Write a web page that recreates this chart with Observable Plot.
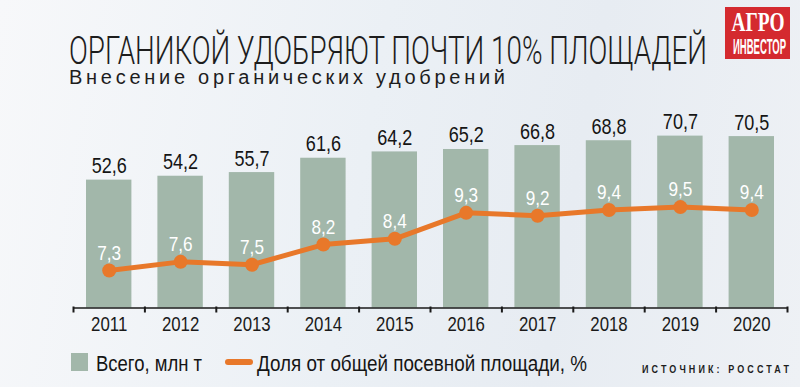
<!DOCTYPE html>
<html>
<head>
<meta charset="utf-8">
<script src="https://cdn.jsdelivr.net/npm/d3@7"></script>
<script src="https://cdn.jsdelivr.net/npm/@observablehq/plot@0.6"></script>
<style>
  html, body { margin: 0; padding: 0; }
  #wrap {
    position: relative; width: 800px; height: 387px; overflow: hidden;
    background: linear-gradient(100deg, #f7f8fa 0%, #ebf0f5 45%, #e7ecf2 70%, #eef1f5 100%);
  }
  #chart, #overlay { position: absolute; left: 0; top: 0; }
</style>
</head>
<body>
<div id="wrap">
  <div id="chart"></div>
  <svg id="overlay" width="800" height="387" xmlns="http://www.w3.org/2000/svg"></svg>
</div>
<script>
const years = [2011, 2012, 2013, 2014, 2015, 2016, 2017, 2018, 2019, 2020];
const totals = [52.6, 54.2, 55.7, 61.6, 64.2, 65.2, 66.8, 68.8, 70.7, 70.5];
const shares = [7.3, 7.6, 7.5, 8.2, 8.4, 9.3, 9.2, 9.4, 9.5, 9.4];

const titleText = "ОРГАНИКОЙ УДОБРЯЮТ ПОЧТИ 10% ПЛОЩАДЕЙ";
const subtitleText = "Внесение органических удобрений";
const legendBars = "Всего, млн т";
const legendLine = "Доля от общей посевной площади, %";
const sourceText = "ИСТОЧНИК: РОССТАТ";

const data = years.map((year, i) => ({year, total: totals[i], share: shares[i]}));
const boundaries = [...years.map(y => y - 0.5), years[years.length - 1] + 0.5];

// share (%) drawn against the bar axis via a linear transform (secondary scale)
const shareOffset = 6.0, shareFactor = 11.86;
const shareY = d => (d.share - shareOffset) * shareFactor;
const fmt = v => v.toFixed(1).replace(".", ",");

const barColor = "#a2b7aa";
const orange = "#e8782a";
const FONT = '"Liberation Sans", Arial, "DejaVu Sans", sans-serif';

const chart = Plot.plot({
  width: 800,
  height: 387,
  marginLeft: 73,
  marginRight: 13,
  marginTop: 113,
  marginBottom: 79.5,
  style: {background: "transparent", fontFamily: FONT, overflow: "visible"},
  x: {type: "linear", domain: [2010.5, 2020.5], axis: null},
  y: {domain: [0, 80], axis: null},
  marks: [
    Plot.rectY(data, {x1: d => d.year - 0.5, x2: d => d.year + 0.5, y: "total", insetLeft: 13, insetRight: 13, fill: barColor}),
    Plot.ruleY([0], {stroke: "#1a1a1a", strokeWidth: 1.6}),
    Plot.ruleX(boundaries, {y1: 0, y2: 0, insetTop: -1, insetBottom: -5, stroke: "#1a1a1a", strokeWidth: 2}),
    Plot.text(years, {x: d => d, y: 0, text: d => String(d), lineAnchor: "top", dy: 8.5, fontSize: 20.5, fill: "#1a1a1a"}),
    Plot.text(data, {x: "year", y: "total", text: d => fmt(d.total), lineAnchor: "bottom", dy: -7, fontSize: 22, fill: "#151515"}),
    Plot.line(data, {x: "year", y: shareY, stroke: orange, strokeWidth: 5, strokeLinejoin: "round"}),
    Plot.dot(data, {x: "year", y: shareY, r: 7, fill: orange, stroke: "none"}),
    Plot.text(data, {x: "year", y: shareY, text: d => fmt(d.share), lineAnchor: "bottom", dy: -11, fontSize: 21, fill: "#ffffff"})
  ]
});
document.getElementById("chart").appendChild(chart);

// condensed look: squeeze the chart's labels horizontally
d3.select(chart).selectAll("text").each(function () {
  const len = this.getComputedTextLength();
  if (len > 0) {
    this.setAttribute("textLength", (len * 0.82).toFixed(1));
    this.setAttribute("lengthAdjust", "spacingAndGlyphs");
  }
});

// overlay: title, subtitle, logo, legend, source
const ov = d3.select("#overlay");
function txt(x, y, s, o) {
  const t = ov.append("text")
    .attr("transform", `translate(${x},${y})` + (o.sy ? ` scale(1,${o.sy})` : ""))
    .attr("font-family", o.family || FONT)
    .attr("font-size", o.size)
    .attr("font-weight", o.weight || "normal")
    .attr("fill", o.fill || "#1d1d1d")
    .text(s);
  if (o.len) t.attr("textLength", o.len).attr("lengthAdjust", o.adjust || "spacingAndGlyphs");
  return t;
}
txt(69, 64, titleText, {size: 27, sy: 1.42, weight: 300, len: 638, family: 'Roboto, "Liberation Sans", sans-serif'});
txt(69, 83.5, subtitleText, {size: 20, len: 436, adjust: "spacing"});

// logo
ov.append("rect").attr("x", 725).attr("y", 7).attr("width", 65).attr("height", 52).attr("fill", "#d42a2f");
txt(731.5, 31, "АГРО", {size: 19, sy: 1.4, weight: "bold", fill: "#fff", len: 53, family: '"Liberation Serif", "DejaVu Serif", serif'});
txt(733, 53.5, "ИНВЕСТОР", {size: 9.5, sy: 2.4, weight: "bold", fill: "#fff", len: 53});

// legend
ov.append("rect").attr("x", 71).attr("y", 353).attr("width", 17).attr("height", 18).attr("fill", barColor);
txt(96, 371, legendBars, {size: 22, len: 106, fill: "#151515"});
ov.append("line").attr("x1", 228).attr("x2", 250).attr("y1", 362).attr("y2", 362)
  .attr("stroke", orange).attr("stroke-width", 6).attr("stroke-linecap", "round");
txt(257, 371, legendLine, {size: 22, len: 330, fill: "#151515"});
txt(642, 372.5, sourceText, {size: 9, sy: 1.3, weight: "bold", len: 147, adjust: "spacing"});
</script>
</body>
</html>
